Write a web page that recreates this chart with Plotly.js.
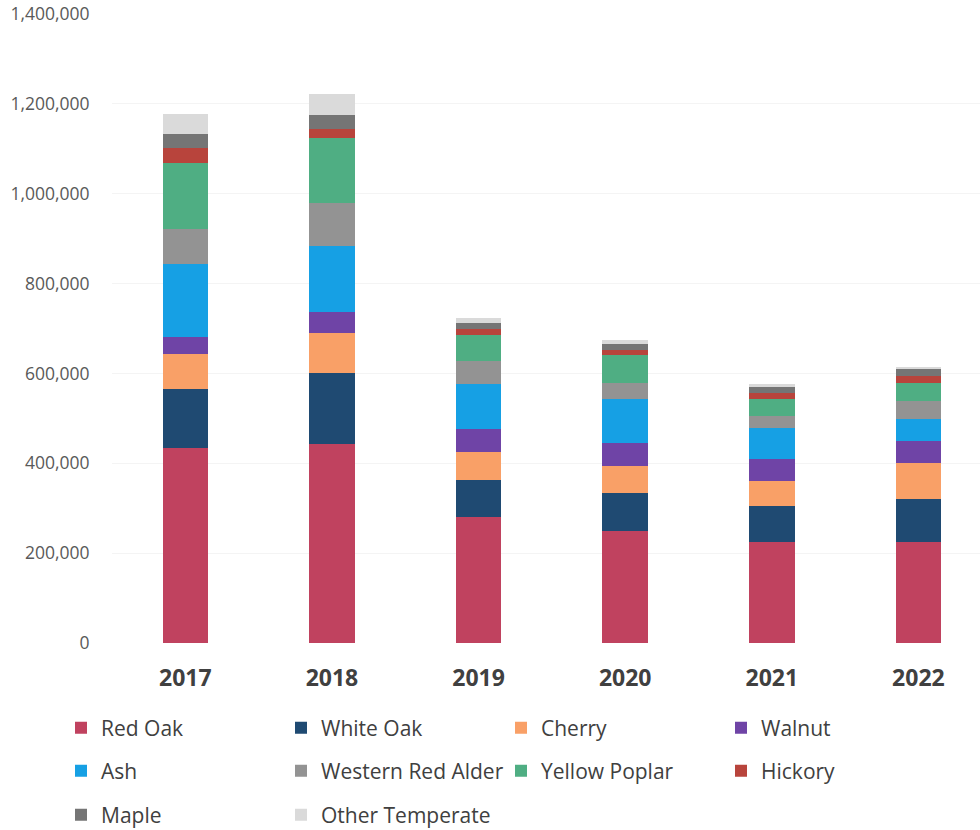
<!DOCTYPE html>
<html>
<head>
<meta charset="utf-8">
<script src="https://cdn.plot.ly/plotly-3.0.1.min.js"></script>
<style>html,body{margin:0;padding:0;background:#fff;}#chart{width:980px;height:830px;}</style>
</head>
<body>
<div id="chart"></div>
<script>
const years = ["2017", "2018", "2019", "2020", "2021", "2022"];
const species = ["Red Oak", "White Oak", "Cherry", "Walnut", "Ash", "Western Red Alder", "Yellow Poplar", "Hickory", "Maple", "Other Temperate"];
const redOak       = [433000, 442000, 280000, 249000, 224000, 224000];
const whiteOak     = [133000, 158000,  82000,  84000,  80000,  96000];
const cherry       = [ 78000,  89000,  64000,  62000,  56000,  80000];
const walnut       = [ 38000,  47000,  51000,  51000,  49000,  49000];
const ash          = [162000, 147000, 100000,  96000,  69000,  49000];
const westernRedAlder = [78000, 96000,  51000,  36000,  27000,  40000];
const yellowPoplar = [147000, 144000,  58000,  62000,  38000,  40000];
const hickory      = [ 33000,  20000,  13000,  13000,  13000,  16000];
const maple        = [ 31000,  33000,  13000,  13000,  13000,  16000];
const otherTemperate = [44000, 47000,  11000,   9000,   7000,   4000];

const seriesValues = [redOak, whiteOak, cherry, walnut, ash, westernRedAlder, yellowPoplar, hickory, maple, otherTemperate];
const colors = ["#c0425f", "#1f4a72", "#f9a067", "#6f44a6", "#16a0e4", "#939393", "#4fae83", "#b8443c", "#757575", "#dadada"];

// legend grid: 4 columns, 3 rows (swatch left x, row centre y in px)
const legendCols = [75, 295, 515, 735];
const legendRows = [728, 771, 815];

const traces = species.map((name, i) => ({
  type: "bar",
  name: name,
  x: years,
  y: seriesValues[i],
  marker: {color: colors[i], line: {width: 0}},
  legend: i === 0 ? "legend" : "legend" + (i + 1),
  hoverinfo: "x+y+name"
}));

const layout = {
  width: 980, height: 830,
  margin: {l: 112, r: 0, t: 14, b: 187},
  paper_bgcolor: "#ffffff",
  plot_bgcolor: "#ffffff",
  barmode: "stack",
  bargap: 0.69,
  showlegend: true,
  xaxis: {
    type: "category",
    range: [-0.5, 5.42],
    showgrid: false, zeroline: false, showline: false,
    ticks: "outside", ticklen: 14, tickcolor: "rgba(0,0,0,0)",
    tickfont: {family: "Open Sans, sans-serif", size: 23, color: "#404040", weight: "bold"}
  },
  yaxis: {
    range: [0, 1400000],
    tickvals: [0, 200000, 400000, 600000, 800000, 1000000, 1200000, 1400000],
    ticktext: ["0", "200,000", "400,000", "600,000", "800,000", "1,000,000", "1,200,000", "1,400,000"],
    showgrid: true, gridcolor: "#f4f4f4", gridwidth: 1,
    zeroline: false, showline: false,
    ticks: "outside", ticklen: 18, tickcolor: "rgba(0,0,0,0)",
    tickfont: {family: "Open Sans, sans-serif", size: 17.5, color: "#595959"}
  }
};

species.forEach((name, i) => {
  const key = i === 0 ? "legend" : "legend" + (i + 1);
  layout[key] = {
    orientation: "h",
    xref: "container", yref: "container",
    x: (legendCols[i % 4] - 14) / 980, xanchor: "left",
    y: 1 - legendRows[Math.floor(i / 4)] / 830, yanchor: "middle",
    itemwidth: 30,
    font: {family: "Open Sans, sans-serif", size: 21, color: "#404040"},
    bgcolor: "rgba(0,0,0,0)",
    itemclick: false, itemdoubleclick: false
  };
});

Plotly.newPlot("chart", traces, layout, {displayModeBar: false, responsive: false});
</script>
</body>
</html>
